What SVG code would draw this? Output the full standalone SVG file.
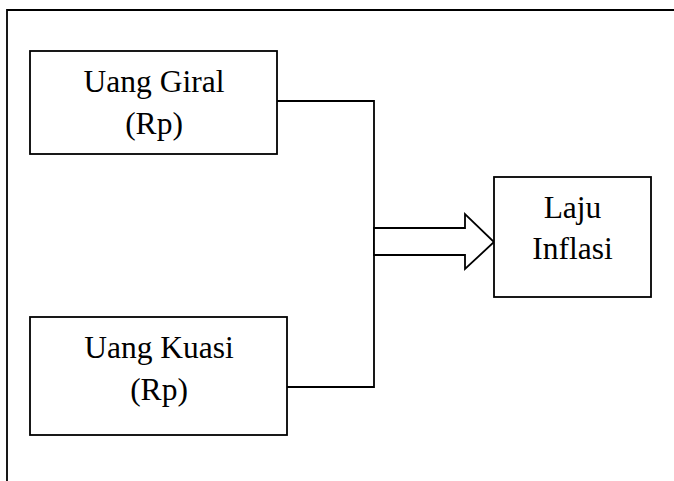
<svg xmlns="http://www.w3.org/2000/svg" width="674" height="481" viewBox="0 0 674 481">
<style>
.box{fill:#fff;stroke:#000;stroke-width:1.8}
.ln{fill:none;stroke:#000;stroke-width:1.8}
text{font-family:"Liberation Serif","Times New Roman",serif;font-size:31.5px;fill:#000;text-anchor:middle}
</style>
<rect width="674" height="481" fill="#fff"/>
<path class="ln" d="M7,481 V10 H680"/>
<g id="connectors">
<path class="ln" d="M277,101 H374 V387 H287"/>
<polygon class="box" points="374,228 465,228 465,214 494,242 465,269 465,255 374,255"/>
</g>
<g id="uang-giral">
<rect class="box" x="30" y="51" width="247" height="103"/>
<text x="154" y="92">Uang Giral</text>
<text x="154" y="134">(Rp)</text>
</g>
<g id="uang-kuasi">
<rect class="box" x="30" y="317" width="257" height="118"/>
<text x="159" y="358">Uang Kuasi</text>
<text x="159" y="400">(Rp)</text>
</g>
<g id="laju-inflasi">
<rect class="box" x="494" y="177" width="157" height="120"/>
<text x="572.5" y="218">Laju</text>
<text x="572.5" y="259">Inflasi</text>
</g>
</svg>
